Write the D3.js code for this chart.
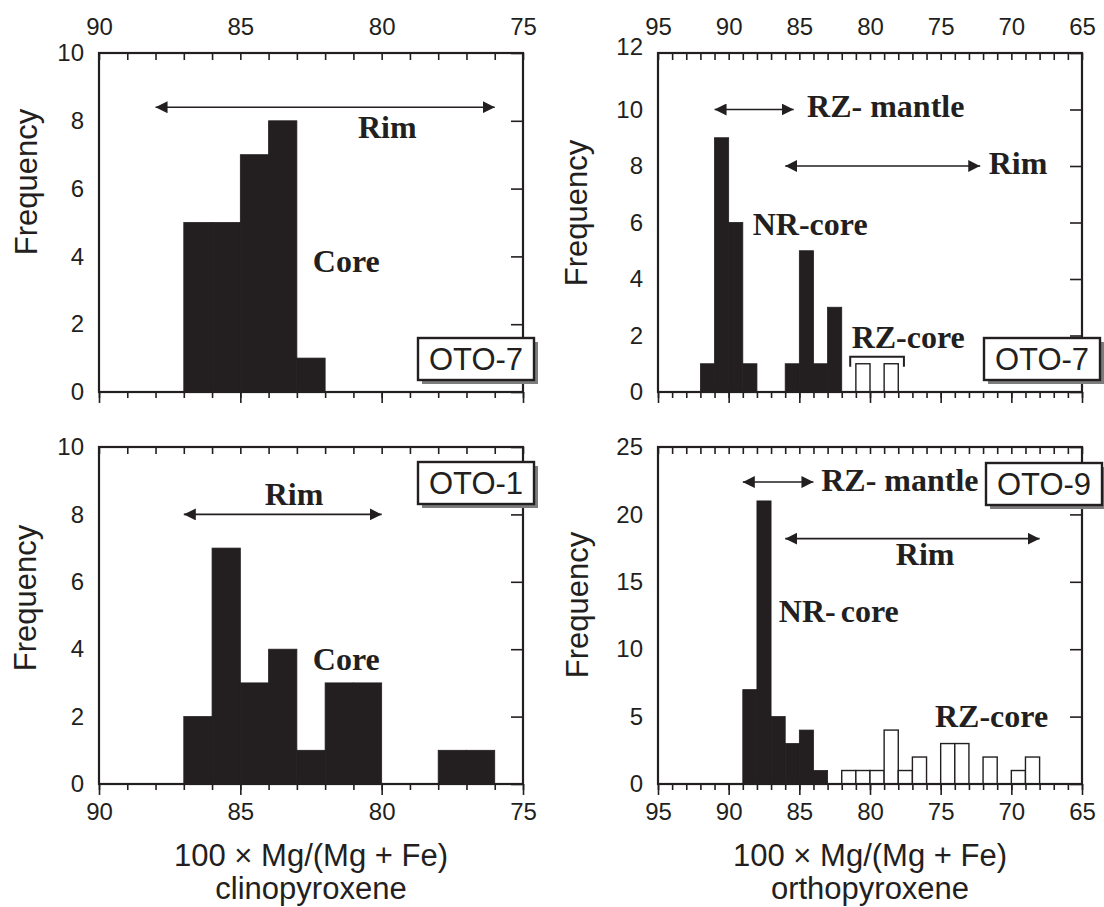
<!DOCTYPE html>
<html>
<head>
<meta charset="utf-8">
<script src="https://cdn.jsdelivr.net/npm/d3@7"></script>
<style>
  body { margin: 0; background: #fff; }
  svg { display: block; }
</style>
</head>
<body>
<div id="chart"></div>
<script>
// each bin is 1 unit wide, the value is its high (Mg-rich) edge
var cpx7Bins   = [87, 86, 85, 84, 83];
var cpx7Counts = [5, 5, 7, 8, 1];

var cpx1Bins   = [87, 86, 85, 84, 83, 82, 81, 78, 77];
var cpx1Counts = [2, 7, 3, 4, 1, 3, 3, 1, 1];

var opx7Bins       = [92, 91, 90, 89, 86, 85, 84, 83];
var opx7Counts     = [1, 9, 6, 1, 1, 5, 1, 3];
var opx7OpenBins   = [81, 79];
var opx7OpenCounts = [1, 1];

var opx9Bins       = [89, 88, 87, 86, 85, 84];
var opx9Counts     = [7, 21, 5, 3, 4, 1];
var opx9OpenBins   = [82, 81, 80, 79, 78, 77, 75, 74, 72, 70, 69];
var opx9OpenCounts = [1, 1, 1, 4, 1, 2, 3, 3, 2, 1, 2];

var cpxXTicks = [90, 85, 80, 75];
var opxXTicks = [95, 90, 85, 80, 75, 70, 65];
var yTicks10  = [0, 2, 4, 6, 8, 10];
var yTicks12  = [0, 2, 4, 6, 8, 10, 12];
var yTicks25  = [0, 5, 10, 15, 20, 25];

var sampleNames = ['OTO-7', 'OTO-7', 'OTO-1', 'OTO-9'];
var xTitle      = '100 \u00d7 Mg/(Mg + Fe)';
var mineralNames = ['clinopyroxene', 'orthopyroxene'];

var W = 1104, H = 907;
var ink = '#231f20';
var sans = '"Liberation Sans", Arial, Helvetica, sans-serif';
var serif = '"Liberation Serif", "Times New Roman", serif';

var svg = d3.select('#chart').append('svg')
  .attr('width', W)
  .attr('height', H);

var defs = svg.append('defs');
defs.append('marker')
  .attr('id', 'head')
  .attr('viewBox', '0 0 12 12')
  .attr('refX', 12).attr('refY', 6)
  .attr('markerWidth', 12).attr('markerHeight', 12)
  .attr('markerUnits', 'userSpaceOnUse')
  .attr('orient', 'auto-start-reverse')
  .append('path')
    .attr('d', 'M0,0 L12,6 L0,12 Z')
    .attr('fill', ink);

var panels = [
  { // top left, cpx OTO-7
    left: 99, right: 523, top: 53, bottom: 392,
    xDomain: [90, 75], yDomain: [0, 10], xTicks: cpxXTicks, yTicks: yTicks10,
    topLabels: true,
    bars: [cpx7Bins, cpx7Counts], open: null,
    arrows: [{ x1: 88, x2: 76, y: 8.4 }],
    labels: [
      { t: 'Rim',  x: 79.8,  y: 7.5,  a: 'middle' },
      { t: 'Core', x: 81.25, y: 3.55, a: 'middle' }
    ],
    bracket: null,
    name: sampleNames[0], box: [418, 338],
    freq: [26, 182]
  },
  { // top right, opx OTO-7
    left: 658, right: 1082, top: 53, bottom: 392,
    xDomain: [95, 65], yDomain: [0, 12], xTicks: opxXTicks, yTicks: yTicks12,
    topLabels: true, topYShift: -6,
    bars: [opx7Bins, opx7Counts], open: [opx7OpenBins, opx7OpenCounts],
    arrows: [{ x1: 91, x2: 85.4, y: 10 }, { x1: 86, x2: 72.2, y: 8 }],
    labels: [
      { t: 'RZ-', t2: 'mantle', gap: 8, x: 84.45, y: 9.72, a: 'start' },
      { t: 'Rim',     x: 71.6, y: 7.72, a: 'start' },
      { t: 'NR-core', x: 88.3, y: 5.55, a: 'start' },
      { t: 'RZ-core', x: 81.3, y: 1.57, a: 'start' }
    ],
    bracket: { x1: 81.4, x2: 77.6, y: 1.25 },
    name: sampleNames[1], box: [984, 338],
    freq: [576, 213]
  },
  { // bottom left, cpx OTO-1
    left: 99, right: 523, top: 447, bottom: 784,
    xDomain: [90, 75], yDomain: [0, 10], xTicks: cpxXTicks, yTicks: yTicks10,
    bottomLabels: true, mineral: mineralNames[0],
    bars: [cpx1Bins, cpx1Counts], open: null,
    arrows: [{ x1: 87, x2: 80, y: 8 }],
    labels: [
      { t: 'Rim',  x: 83.1,  y: 8.27, a: 'middle' },
      { t: 'Core', x: 81.25, y: 3.37, a: 'middle' }
    ],
    bracket: null,
    name: sampleNames[2], box: [418, 462],
    freq: [25, 598]
  },
  { // bottom right, opx OTO-9
    left: 658, right: 1082, top: 447, bottom: 784,
    xDomain: [95, 65], yDomain: [0, 25], xTicks: opxXTicks, yTicks: yTicks25,
    bottomLabels: true, mineral: mineralNames[1],
    bars: [opx9Bins, opx9Counts], open: [opx9OpenBins, opx9OpenCounts],
    arrows: [{ x1: 89, x2: 84, y: 22.4 }, { x1: 86, x2: 68, y: 18.2 }],
    labels: [
      { t: 'RZ-', t2: 'mantle', gap: 8, x: 83.45, y: 21.7, a: 'start' },
      { t: 'Rim', x: 76.1, y: 16.25, a: 'middle' },
      { t: 'NR-', t2: 'core', gap: 5, x: 86.45, y: 12.04, a: 'start' },
      { t: 'RZ-core', x: 75.4, y: 4.25, a: 'start' }
    ],
    bracket: null,
    name: sampleNames[3], box: [986, 463],
    freq: [577, 605]
  }
];

function styleAxis(sel) {
  sel.select('.domain').remove();
  sel.attr('font-family', sans).attr('font-size', 24);
  sel.selectAll('line').attr('stroke', ink).attr('stroke-width', 1.6);
  sel.selectAll('text').attr('fill', ink);
}

panels.forEach(function(p) {
  var x = d3.scaleLinear().domain(p.xDomain).range([p.left, p.right]);
  var y = d3.scaleLinear().domain(p.yDomain).range([p.bottom, p.top]);
  var g = svg.append('g');
  var units = d3.range(p.xDomain[1], p.xDomain[0] + 1);
  var majors = p.xTicks;

  // filled bars
  var filled = p.bars[0].map(function(b, i) { return { b: b, n: p.bars[1][i] }; });
  g.append('g').selectAll('rect')
    .data(filled)
    .enter().append('rect')
      .attr('x', function(d) { return x(d.b); })
      .attr('width', function(d) { return x(d.b - 1) - x(d.b); })
      .attr('y', function(d) { return y(d.n); })
      .attr('height', function(d) { return y(0) - y(d.n); })
      .attr('fill', ink)
      .attr('stroke', ink)
      .attr('stroke-width', 0.8);

  // open bars
  if (p.open) {
    var open = p.open[0].map(function(b, i) { return { b: b, n: p.open[1][i] }; });
    g.append('g').selectAll('rect')
      .data(open)
      .enter().append('rect')
        .attr('x', function(d) { return x(d.b); })
        .attr('width', function(d) { return x(d.b - 1) - x(d.b); })
        .attr('y', function(d) { return y(d.n); })
        .attr('height', function(d) { return y(0) - y(d.n); })
        .attr('fill', '#fff')
        .attr('stroke', ink)
        .attr('stroke-width', 1.4);
  }

  // top axis: inward ticks every unit, labels on the top panels
  g.append('g')
    .attr('transform', 'translate(0,' + p.top + ')')
    .call(d3.axisTop(x).tickValues(units).tickSize(-7).tickPadding(18)
      .tickFormat(function(d) { return (p.topLabels && majors.indexOf(d) >= 0) ? d : ''; }))
    .call(styleAxis);

  // bottom axis: outward minor + major ticks
  g.append('g')
    .attr('transform', 'translate(0,' + p.bottom + ')')
    .call(d3.axisBottom(x).tickValues(units).tickSize(6).tickFormat(''))
    .call(styleAxis);
  g.append('g')
    .attr('transform', 'translate(0,' + p.bottom + ')')
    .call(d3.axisBottom(x).tickValues(majors).tickSize(11).tickPadding(8)
      .tickFormat(function(d) { return p.bottomLabels ? d : ''; }))
    .call(styleAxis);

  // y labels on the left, inward ticks on the right
  var yl = g.append('g')
    .attr('transform', 'translate(' + p.left + ',0)')
    .call(d3.axisLeft(y).tickValues(p.yTicks).tickSize(0).tickPadding(15))
    .call(styleAxis);
  if (p.topYShift) {
    yl.selectAll('.tick').filter(function(d) { return d === p.yDomain[1]; })
      .select('text').attr('y', p.topYShift);
  }
  g.append('g')
    .attr('transform', 'translate(' + p.right + ',0)')
    .call(d3.axisLeft(y).tickValues(p.yTicks).tickSize(12).tickFormat(''))
    .call(styleAxis);

  // frame
  g.append('rect')
    .attr('x', p.left).attr('y', p.top)
    .attr('width', p.right - p.left).attr('height', p.bottom - p.top)
    .attr('fill', 'none')
    .attr('stroke', ink)
    .attr('stroke-width', 2.2);

  // arrows
  g.append('g').selectAll('line')
    .data(p.arrows)
    .enter().append('line')
      .attr('x1', function(d) { return x(d.x1); })
      .attr('x2', function(d) { return x(d.x2); })
      .attr('y1', function(d) { return y(d.y); })
      .attr('y2', function(d) { return y(d.y); })
      .attr('stroke', ink)
      .attr('stroke-width', 1.6)
      .attr('marker-start', 'url(#head)')
      .attr('marker-end', 'url(#head)');

  // bracket over the RZ-core bars
  if (p.bracket) {
    var by = y(p.bracket.y);
    g.append('path')
      .attr('d', 'M' + x(p.bracket.x1) + ',' + (by + 10) + 'V' + by +
                 'H' + x(p.bracket.x2) + 'V' + (by + 10))
      .attr('fill', 'none')
      .attr('stroke', ink)
      .attr('stroke-width', 2);
  }

  // bold serif annotations
  p.labels.forEach(function(l) {
    var t = g.append('text')
      .attr('x', x(l.x))
      .attr('y', y(l.y))
      .attr('text-anchor', l.a)
      .attr('font-family', serif)
      .attr('font-weight', 'bold')
      .attr('font-size', 32)
      .attr('fill', ink);
    t.append('tspan').text(l.t);
    if (l.t2) t.append('tspan').attr('dx', l.gap).text(l.t2);
  });

  // sample name box with drop shadow
  var bw = 116, bh = 42;
  g.append('rect')
    .attr('x', p.box[0] + 4).attr('y', p.box[1] + 4)
    .attr('width', bw).attr('height', bh)
    .attr('fill', '#7d7d7d');
  g.append('rect')
    .attr('x', p.box[0]).attr('y', p.box[1])
    .attr('width', bw).attr('height', bh)
    .attr('fill', '#fff')
    .attr('stroke', ink)
    .attr('stroke-width', 2.4);
  g.append('text')
    .attr('x', p.box[0] + bw / 2)
    .attr('y', p.box[1] + bh / 2 + 11)
    .attr('text-anchor', 'middle')
    .attr('font-family', sans)
    .attr('font-size', 31)
    .attr('fill', ink)
    .text(p.name);

  // axis titles
  g.append('text')
    .attr('transform', 'translate(' + p.freq[0] + ',' + p.freq[1] + ') rotate(-90)')
    .attr('text-anchor', 'middle')
    .attr('dominant-baseline', 'central')
    .attr('font-family', sans)
    .attr('font-size', 31)
    .attr('fill', ink)
    .text('Frequency');

  if (p.mineral) {
    var cx = (p.left + p.right) / 2;
    g.append('text')
      .attr('x', cx).attr('y', 866)
      .attr('text-anchor', 'middle')
      .attr('font-family', sans)
      .attr('font-size', 31)
      .attr('fill', ink)
      .text(xTitle);
    g.append('text')
      .attr('x', cx).attr('y', 899)
      .attr('text-anchor', 'middle')
      .attr('font-family', sans)
      .attr('font-size', 31)
      .attr('fill', ink)
      .text(p.mineral);
  }
});
</script>
</body>
</html>
